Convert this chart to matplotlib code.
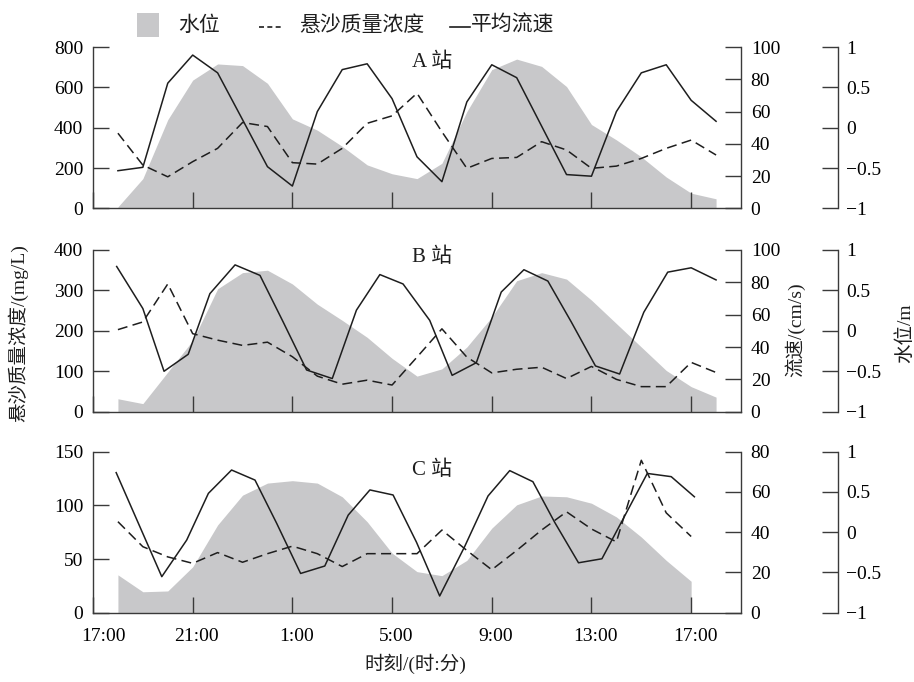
import matplotlib
matplotlib.use('Agg')
import matplotlib.pyplot as plt
import matplotlib.transforms as mtransforms
from matplotlib.lines import Line2D
from matplotlib.patches import Rectangle

plt.rcParams['font.family'] = ['Liberation Serif', 'Noto Sans CJK SC']
plt.rcParams['axes.unicode_minus'] = True

# ---------------- data ----------------
hours = list(range(1, 26))          # hours after 17:00 (A, B)
hours_C = list(range(1, 25))        # hours after 17:00 (C)
tick_hours = [0, 4, 8, 12, 16, 20, 24]
tick_labels = ['17:00', '21:00', '1:00', '5:00', '9:00', '13:00', '17:00']

# Station A
A_ssc = [373, 215, 157, 232, 298, 426, 406, 227, 220, 298, 422, 459, 571,
         380, 199, 248, 253, 331, 290, 199, 210, 248, 298, 339, 265]
A_vel = [23.4, 25.5, 77.6, 95, 84, 55, 25.9, 13.9, 60, 86, 89.6, 68, 32,
         16.6, 66, 89, 81, 51, 21, 20, 60, 84, 89, 67, 54]
A_wl = [-0.98, -0.63, 0.10, 0.59, 0.79, 0.77, 0.55, 0.11, -0.03, -0.23, -0.46,
        -0.57, -0.63, -0.44, 0.20, 0.72, 0.85, 0.76, 0.51, 0.04, -0.15, -0.36,
        -0.61, -0.81, -0.88]

# Station B
B_ssc = [203, 222, 316, 193, 177, 164, 172, 136, 88, 68, 78, 66, 135,
         205, 135, 96, 105, 110, 82, 112, 80, 62, 62, 122, 97]
B_vel_t = [0.95, 2.0, 2.85, 3.82, 4.69, 5.70, 6.70, 7.63, 8.57, 9.60, 10.57,
           11.51, 12.44, 13.51, 14.41, 15.38, 16.38, 17.29, 18.25, 19.19,
           20.16, 21.13, 22.10, 23.06, 24.0, 25.0]
B_vel = [89.8, 63.8, 25, 35.5, 73, 90.8, 84.3, 55.5, 25.8, 20.5, 62.8, 84.8,
         79, 56.5, 22.5, 30.3, 74, 87.8, 80.8, 55.5, 28.3, 23.3, 61.5, 86.3,
         89, 81.5]
B_wl = [-0.84, -0.90, -0.51, -0.12, 0.52, 0.72, 0.75, 0.58, 0.33, 0.13, -0.08,
        -0.34, -0.56, -0.47, -0.20, 0.17, 0.62, 0.72, 0.64, 0.38, 0.09, -0.20,
        -0.49, -0.69, -0.82]

# Station C
C_ssc = [84.8, 61.5, 52, 46, 56, 47, 55, 62, 55, 43, 55, 55, 55, 77, 58, 40,
         58, 77, 94, 78, 66, 142, 93, 71]
C_vel_t = [0.93, 1.85, 2.76, 3.76, 4.63, 5.56, 6.50, 7.37, 8.33, 9.30, 10.24,
           11.11, 12.04, 12.98, 13.91, 14.91, 15.85, 16.72, 17.65, 18.52,
           19.48, 20.42, 21.33, 22.24, 23.20, 24.13]
C_vel = [69.6, 43.6, 17.9, 36.1, 59.3, 70.9, 65.9, 44.4, 19.5, 23.2, 48.5,
         61.0, 58.5, 35, 8.3, 32.8, 58, 70.6, 65.1, 45, 24.8, 26.8, 48, 69.2,
         67.6, 57.6]
C_wl = [-0.53, -0.74, -0.73, -0.43, 0.09, 0.46, 0.61, 0.64, 0.61, 0.44, 0.13,
        -0.26, -0.49, -0.54, -0.35, 0.05, 0.34, 0.45, 0.44, 0.36, 0.19, -0.06,
        -0.35, -0.61]

stations = [
    dict(name='A 站', t=hours, ssc=A_ssc, vt=hours, vel=A_vel, wl=A_wl,
         ssc_lim=(0, 800), ssc_ticks=[0, 200, 400, 600, 800],
         vel_lim=(0, 100), vel_ticks=[0, 20, 40, 60, 80, 100], label_y=0.905),
    dict(name='B 站', t=hours, ssc=B_ssc, vt=B_vel_t, vel=B_vel, wl=B_wl,
         ssc_lim=(0, 400), ssc_ticks=[0, 100, 200, 300, 400],
         vel_lim=(0, 100), vel_ticks=[0, 20, 40, 60, 80, 100], label_y=0.955),
    dict(name='C 站', t=hours_C, ssc=C_ssc, vt=C_vel_t, vel=C_vel, wl=C_wl,
         ssc_lim=(0, 150), ssc_ticks=[0, 50, 100, 150],
         vel_lim=(0, 80), vel_ticks=[0, 20, 40, 60, 80], label_y=0.885),
]
wl_ticks = [-1, -0.5, 0, 0.5, 1]
wl_labels = ['\u22121', '\u22120.5', '0', '0.5', '1']

# ---------------- style ----------------
GREY = '#c8c8ca'
INK = '#1e1e1e'
SPINE = '#3a3a3a'
TICK_FS = 14
LAB_FS = 14
TL = 11.5
LW = 1.1

W, H = 914, 682
fig = plt.figure(figsize=(W / 100, H / 100), dpi=100)
left_px, right_px = 93, 741
panels_px = [(47, 208.5), (250, 411.7), (451.7, 612.7)]

for i, (st, (top, bot)) in enumerate(zip(stations, panels_px)):
    rect = [left_px / W, 1 - bot / H, (right_px - left_px) / W, (bot - top) / H]
    ax = fig.add_axes(rect)
    ax_wl = ax.twinx()
    ax_v = ax.twinx()
    ax_wl.set_zorder(0)
    ax_v.set_zorder(1)
    ax.set_zorder(2)
    ax.patch.set_visible(False)
    ax_v.patch.set_visible(False)
    ax_wl.patch.set_visible(False)

    # water level (shaded)
    ax_wl.fill_between(st['t'], st['wl'], -1, color=GREY, lw=0)
    ax_wl.set_ylim(-1, 1)
    ax_wl.set_yticks(wl_ticks)
    ax_wl.set_yticklabels(wl_labels)
    for s in ['top', 'left', 'bottom']:
        ax_wl.spines[s].set_visible(False)
    ax_wl.spines['right'].set_position(('axes', (838 - left_px) / (right_px - left_px)))
    ax_wl.spines['right'].set_color(SPINE)
    ax_wl.spines['right'].set_linewidth(1.0)
    ax_wl.tick_params(axis='y', direction='in', length=TL, width=1.0,
                      color=SPINE, pad=6, labelsize=TICK_FS)

    # velocity (solid)
    ax_v.plot(st['vt'], st['vel'], color=INK, lw=LW)
    ax_v.set_ylim(*st['vel_lim'])
    ax_v.set_yticks(st['vel_ticks'])
    for s in ['top', 'left', 'bottom']:
        ax_v.spines[s].set_visible(False)
    ax_v.spines['right'].set_color(SPINE)
    ax_v.spines['right'].set_linewidth(1.0)
    ax_v.tick_params(axis='y', direction='in', length=TL, width=1.0,
                     color=SPINE, pad=7, labelsize=TICK_FS)

    # SSC (dashed)
    ax.plot(st['t'], st['ssc'], color=INK, lw=LW, ls=(0, (6.5, 3.5)))
    ax.set_ylim(*st['ssc_lim'])
    ax.set_yticks(st['ssc_ticks'])
    ax.set_xlim(0, 26)
    ax.set_xticks(tick_hours)
    ax.spines['top'].set_visible(False)
    ax.spines['right'].set_visible(False)
    for s in ['left', 'bottom']:
        ax.spines[s].set_color(SPINE)
        ax.spines[s].set_linewidth(1.0)
    ax.tick_params(axis='both', direction='in', length=TL, width=1.0,
                   color=SPINE, labelsize=TICK_FS)
    ax.tick_params(axis='y', pad=7)
    ax.tick_params(axis='x', pad=11)
    if i < 2:
        ax.set_xticklabels([])
    else:
        ax.set_xticklabels(tick_labels)
        for j, lab in enumerate(ax.get_xticklabels()):
            dx = 10 if j == 0 else 4
            lab.set_transform(lab.get_transform() +
                              mtransforms.ScaledTranslation(dx / 100, 0, fig.dpi_scale_trans))

    ax.text(0.523, st['label_y'], st['name'], transform=ax.transAxes,
            ha='center', va='center', fontsize=15, color=INK)

# axis labels
fig.text(18 / W, 1 - 333 / H, '悬沙质量浓度/(mg/L)', rotation=90,
         ha='center', va='center', fontsize=LAB_FS, color=INK)
fig.text(795 / W, 1 - 330 / H, '流速/(cm/s)', rotation=90,
         ha='center', va='center', fontsize=LAB_FS, color=INK)
fig.text(905 / W, 1 - 333 / H, '水位/m', rotation=90,
         ha='center', va='center', fontsize=LAB_FS, color=INK)
fig.text(415 / W, 1 - 664 / H, '时刻/(时:分)', ha='center', va='center',
         fontsize=LAB_FS, color=INK)

# legend
fig.patches.append(Rectangle((137 / W, 1 - 37 / H), 22 / W, 24 / H,
                             transform=fig.transFigure, color=GREY, lw=0))
fig.text(178 / W, 1 - 26 / H, '水位', ha='left', va='center', fontsize=15, color=INK)
fig.lines.append(Line2D([259 / W, 281 / W], [1 - 27 / H, 1 - 27 / H],
                        transform=fig.transFigure, color=INK, lw=1.2,
                        ls=(0, (3, 2))))
fig.text(299 / W, 1 - 26 / H, '悬沙质量浓度', ha='left', va='center', fontsize=15, color=INK)
fig.lines.append(Line2D([450 / W, 470 / W], [1 - 27 / H, 1 - 27 / H],
                        transform=fig.transFigure, color=INK, lw=1.2))
fig.text(471 / W, 1 - 26 / H, '平均流速', ha='left', va='center', fontsize=15, color=INK)

fig.savefig('out.png', dpi=100)
